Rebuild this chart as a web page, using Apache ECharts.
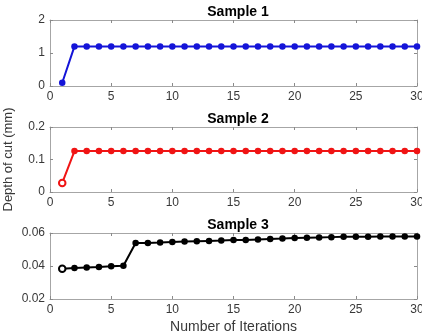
<!DOCTYPE html>
<html>
<head>
<meta charset="utf-8">
<script src="https://cdn.jsdelivr.net/npm/echarts@6/dist/echarts.min.js"></script>
<style>
  html, body { margin: 0; padding: 0; background: #fff; }
  #chart { width: 422px; height: 332px; }
</style>
</head>
<body>
<div id="chart"></div>
<script>
// 迭代次数
const iterations = Array.from({ length: 30 }, (_, i) => i + 1);

// 各样本的切削深度 (mm)
const sample1 = [0.1, 1.2, 1.2, 1.2, 1.2, 1.2, 1.2, 1.2, 1.2, 1.2,
  1.2, 1.2, 1.2, 1.2, 1.2, 1.2, 1.2, 1.2, 1.2, 1.2,
  1.2, 1.2, 1.2, 1.2, 1.2, 1.2, 1.2, 1.2, 1.2, 1.2];
const sample2 = [0.028, 0.126, 0.126, 0.126, 0.126, 0.126, 0.126, 0.126, 0.126, 0.126,
  0.126, 0.126, 0.126, 0.126, 0.126, 0.126, 0.126, 0.126, 0.126, 0.126,
  0.126, 0.126, 0.126, 0.126, 0.126, 0.126, 0.126, 0.126, 0.126, 0.126];
const sample3 = [0.0384, 0.0388, 0.0391, 0.0394, 0.0398, 0.0402, 0.0539, 0.0540, 0.0542, 0.0545,
  0.0548, 0.0550, 0.0552, 0.0554, 0.0557, 0.0558, 0.0561, 0.0564, 0.0566, 0.0569,
  0.0571, 0.0573, 0.0575, 0.0577, 0.0578, 0.0578, 0.0579, 0.0579, 0.0579, 0.0579];

const titles = ['Sample 1', 'Sample 2', 'Sample 3'];
const yRanges = [[0, 2, 1], [0, 0.2, 0.1], [0.02, 0.06, 0.02]];
const colors = ['#1414d8', '#f01414', '#000000'];
const samples = [sample1, sample2, sample3];
// 第一个点为空心的样本
const hollowFirst = [false, true, true];

const grids = [
  { left: 50, right: 5, top: 20, height: 66, outerBoundsMode: 'none' },
  { left: 50, right: 5, top: 127, height: 65, outerBoundsMode: 'none' },
  { left: 50, right: 5, top: 233, height: 66, outerBoundsMode: 'none' }
];

const font = 'Helvetica, "Liberation Sans", Arial, sans-serif';
const boxColor = '#a6a6a6';
const tickColor = '#8a8a8a';
const labelColor = '#383838';

// 坐标轴公共样式
function axisBase(showLabel) {
  return {
    axisLine: { show: true, onZero: false, lineStyle: { color: boxColor, width: 1 } },
    axisTick: { show: true, inside: true, length: 3, lineStyle: { color: tickColor } },
    axisLabel: showLabel
      ? { color: labelColor, fontSize: 12, fontFamily: font, margin: 5 }
      : { show: false },
    splitLine: { show: false }
  };
}

const xAxis = [];
const yAxis = [];
const series = [];

grids.forEach((g, i) => {
  // 底部坐标轴
  xAxis.push(Object.assign({
    type: 'value', gridIndex: i, min: 0, max: 30, interval: 5,
    position: 'bottom',
    name: i === 2 ? 'Number of Iterations' : '',
    nameLocation: 'middle', nameGap: 21,
    nameTextStyle: { color: labelColor, fontSize: 14, fontFamily: font }
  }, axisBase(true)));
  // 顶部坐标轴（只画刻度）
  xAxis.push(Object.assign({
    type: 'value', gridIndex: i, min: 0, max: 30, interval: 5,
    position: 'top'
  }, axisBase(false)));

  const [mn, mx, step] = yRanges[i];
  yAxis.push(Object.assign({
    type: 'value', gridIndex: i, min: mn, max: mx, interval: step,
    position: 'left',
    name: i === 1 ? 'Depth of cut (mm)' : '',
    nameLocation: 'middle', nameGap: 35,
    nameTextStyle: { color: labelColor, fontSize: 13, fontFamily: font }
  }, axisBase(true)));
  yAxis.push(Object.assign({
    type: 'value', gridIndex: i, min: mn, max: mx, interval: step,
    position: 'right'
  }, axisBase(false)));

  const data = iterations.map((x, k) => {
    const pt = { value: [x, samples[i][k]] };
    if (k === 0 && hollowFirst[i]) {
      pt.itemStyle = { color: '#fff', borderColor: colors[i], borderWidth: 2 };
    }
    return pt;
  });

  series.push({
    type: 'line',
    xAxisIndex: i * 2,
    yAxisIndex: i * 2,
    data: data,
    symbol: 'circle',
    symbolSize: 6.5,
    showSymbol: true,
    lineStyle: { color: colors[i], width: 2 },
    itemStyle: { color: colors[i] },
    animation: false,
    clip: false
  });
});

const chart = echarts.init(document.getElementById('chart'));
chart.setOption({
  backgroundColor: '#fff',
  animation: false,
  title: titles.map((t, i) => ({
    text: t,
    left: 233,
    top: grids[i].top - 20,
    textAlign: 'center',
    textStyle: { fontSize: 14, fontWeight: 'bold', color: '#000', fontFamily: font }
  })),
  grid: grids,
  xAxis: xAxis,
  yAxis: yAxis,
  series: series
});
</script>
</body>
</html>
